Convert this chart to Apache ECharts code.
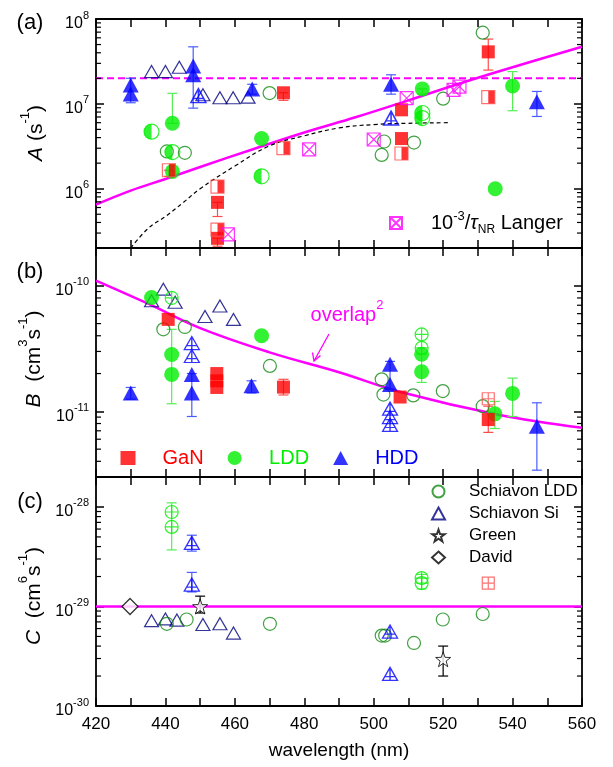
<!DOCTYPE html>
<html><head><meta charset="utf-8">
<script src="https://cdn.jsdelivr.net/npm/echarts@6/dist/echarts.min.js"></script>
<style>html,body{margin:0;padding:0;background:#fff}#c{width:613px;height:767px}</style>
</head><body><div id="c"></div>
<script>
const FONT = '"Liberation Sans", Arial, sans-serif';
const X_MIN = 420, X_MAX = 560;
const xTickLabels = [420, 440, 460, 480, 500, 520, 540, 560];

// ---------------- Panel (a): A (s^-1) ----------------
const aGaNFilled = [[455,6.9e5],[455,2.6e5],[474,1.35e7],[508,8.5e6],[508,3.9e6],[533,4.1e7]];
const aGaNHalf   = [[441,1.65e6],[455,1.06e6],[455,3.3e5],[474,3.0e6],[508,2.6e6],[533,1.2e7]];
const aGaNErr    = [[441,1.4e6,1.65e6],[455,4.7e5,6.9e5],[455,2.1e5,2.6e5],[474,1.1e7,1.35e7],[533,2.5e7,5.8e7]];
const aLDDFilled = [[442,5.9e6],[442,1.6e6],[467.7,3.9e6],[514,1.5e7],[540,1.62e7],[535,1.0e6]];
const aLDDHalf   = [[436,4.7e6],[442,2.7e6],[467.7,1.4e6],[514,7.8e6],[514,6.8e6]];
const aLDDErr    = [[442,5.9e6,1.33e7],[540,8.3e6,2.4e7],[514,1.3e7,1.5e7]];
const aSchLDD    = [[440.4,2.75e6],[445.6,2.65e6],[470,1.34e7],[503,3.6e6],[502.3,2.5e6],[511.6,3.5e6],[520,1.15e7],[531.4,6.9e7]];
const aHDDFilled = [[430,1.67e7],[430,1.31e7],[448,2.8e7],[448,2.2e7],[465,1.5e7],[505,1.7e7],[547,1.06e7]];
const aHDDErr    = [[430,1.03e7,2.0e7],[448,8.9e6,4.7e7],[465,1.3e7,1.7e7],[505,1.3e7,2.2e7],[547,7.1e6,1.4e7]];
const aHDDCross  = [[505,6.8e6],[449.5,1.25e7]];
const aSchSi     = [[436,2.4e7],[440,2.4e7],[444,2.7e7],[450.8,1.28e7],[455.7,1.18e7],[459.5,1.18e7],[463.8,1.2e7]];
const aLanger    = [[458,2.9e5],[481.4,2.9e6],[500,3.8e6],[509.5,1.17e7],[523,1.46e7],[524.7,1.6e7]];
const aOverlap   = [[420,6.5e5],[430,9.5e5],[440,1.3e6],[450,1.8e6],[465,2.9e6],[480,4.6e6],[495,7.0e6],[510,1.1e7],[525,1.75e7],[540,2.7e7],[560,4.7e7]];
const aModel     = [[430,2.0e5],[435,3.4e5],[440,4.7e5],[445,6.8e5],[450,1.0e6],[460,1.85e6],[470,3.2e6],[480,4.2e6],[490,5.2e6],[500,5.7e6],[510,5.9e6],[522,6.0e6]];
const aConst     = [[420,2e7],[560,2e7]];

// ---------------- Panel (b): B (cm^3 s^-1) ----------------
const bGaNFilled = [[440.8,5.4e-11],[454.8,2.0e-11],[454.8,1.75e-11],[454.8,1.55e-11],[474,1.56e-11],[507.6,1.3e-11],[533,8.6e-12]];
const bGaNCross  = [[533,1.26e-11]];
const bGaNErr    = [[474,1.35e-11,1.8e-11],[533,6.8e-12,1.1e-11]];
const bLDDFilled = [[436,8.07e-11],[441.8,2.84e-11],[441.8,1.97e-11],[467.7,4.0e-11],[513.8,2.85e-11],[513.8,2.07e-11],[534.9,9.55e-12],[540,1.39e-11]];
const bLDDErr    = [[441.8,1.15e-11,4.5e-11],[513.8,1.7e-11,2.85e-11],[534.9,7.3e-12,1.2e-11],[540,9.1e-12,1.84e-11]];
const bLDDCross  = [[441.8,8e-11],[513.8,4.1e-11],[513.8,3.2e-11]];
const bSchLDD    = [[439.4,4.5e-11],[445.6,4.7e-11],[470.1,2.3e-11],[502.3,1.8e-11],[502.8,1.36e-11],[511.4,1.34e-11],[519.9,1.45e-11],[531.4,1.1e-11]];
const bHDDFilled = [[430,1.4e-11],[447.6,1.97e-11],[447.6,1.4e-11],[464.8,1.6e-11],[504.7,2.37e-11],[504.7,1.64e-11],[547,7.6e-12]];
const bHDDErr    = [[430,1.25e-11,1.55e-11],[447.6,9.1e-12,2.0e-11],[464.8,1.4e-11,1.75e-11],[504.7,1.5e-11,2.5e-11],[547,3.4e-12,1.17e-11]];
const bHDDCross  = [[447.6,3.5e-11],[447.6,2.76e-11],[504.7,1.05e-11],[504.7,9e-12],[504.7,7.8e-12]];
const bSchSi     = [[436,7.6e-11],[439.4,9.4e-11],[442.8,7.4e-11],[451.4,5.7e-11],[455.7,6.9e-11],[459.6,5.4e-11]];
const bOverlap   = [[420,1.1e-10],[435,7.2e-11],[450,4.6e-11],[470,2.95e-11],[490,2.05e-11],[508,1.42e-11],[536,9.4e-12],[560,7.4e-12]];

// ---------------- Panel (c): C (cm^6 s^-1) ----------------
const cSchLDD   = [[440.4,6.7e-30],[446.1,7.4e-30],[470.1,6.7e-30],[502.3,5.1e-30],[503.3,5.1e-30],[511.6,4.3e-30],[519.9,7.4e-30],[531.4,8.4e-30]];
const cSchSi    = [[436,7.2e-30],[440,7.5e-30],[443.3,7.3e-30],[450.8,6.6e-30],[455.7,6.7e-30],[459.6,5.4e-30]];
const cLDDCross = [[441.8,8.9e-29],[441.8,6.3e-29],[513.8,1.93e-29],[513.8,1.72e-29]];
const cLDDErr   = [[441.8,3.7e-29,1.1e-28],[513.8,1.5e-29,2.1e-29]];
const cGaNCross = [[533,1.72e-29]];
const cHDDCross = [[447.6,4.35e-29],[447.6,1.66e-29],[504.7,5.6e-30],[504.7,2.1e-30]];
const cHDDErr   = [[447.6,3.6e-29,5.2e-29],[447.6,1.4e-29,2.2e-29]];
const cGreen    = [[450,1e-29],[520,2.95e-30]];
const cGreenErr = [[450,8.6e-30,1.27e-29],[520,2e-30,4e-30]];
const cDavid    = [[429.8,1e-29]];
const cConst    = [[420,1e-29],[560,1e-29]];

// ---------------- layout ----------------
// Panel (c) values are too small for the log scale's rounding, so that panel uses a
// linear axis in log10 units (exponent axis) with the same decade layout.
const PANELS = [
  {top:19,  min:2e5,   max:1e8,    expAxis:false},
  {top:248, min:3e-12, max:2e-10,  expAxis:false},
  {top:477, min:1e-30, max:2e-28,  expAxis:true}
];
const GRID_LEFT = 96, GRID_W = 486, GRID_H = 229;

const RED = '#ff0000', RED_L = '#ff4d4d', GREEN = '#00ee00', GREEN_L = '#55ee55', DKGREEN = '#138a13',
      BLUE = '#0000ff', BLUE_L = '#4a5cff', NAVY = '#000080', MAG = '#ff00ff';

const SYM = {
  halfCircle: 'path://M5,0A5,5,0,0,0,5,10Z',
  crossCircle: 'path://M0,5A5,5,0,1,1,10,5A5,5,0,1,1,0,5ZM0,5L10,5M5,0L5,10',
  crossSquare: 'path://M0,0L10,0L10,10L0,10ZM0,5L10,5M5,0L5,10',
  xSquare: 'path://M0,0L10,0L10,10L0,10ZM0,0L10,10M10,0L0,10',
  triCross: 'path://M0,10L5,0L10,10ZM5,0L5,10M1.5,7L8.5,7',
  star: 'path://M10,0L12.35,6.76L19.51,6.91L13.8,11.24L15.88,18.09L10,14L4.12,18.09L6.2,11.24L0.49,6.91L7.65,6.76Z'
};

function T(p, data) {
  if (!PANELS[p].expAxis) return data;
  return data.map(r => [r[0]].concat(r.slice(1).map(v => Math.log10(v))));
}

function powLabelLog(v) {
  const l = Math.log10(v), e = Math.round(l);
  if (Math.abs(l - e) > 1e-6) return '';
  return '{b|10}{s|' + e + '}';
}
function powLabelExp(v) {
  const e = Math.round(v);
  if (Math.abs(v - e) > 1e-6) return '';
  return '{b|10}{s|' + e + '}';
}
const supRich = {
  b: {fontSize: 16, fontFamily: FONT, color: '#000', lineHeight: 26, verticalAlign: 'bottom'},
  s: {fontSize: 11, fontFamily: FONT, color: '#000', verticalAlign: 'top', padding: [4, 0, 0, 0]}
};

const grids = PANELS.map(p => ({left: GRID_LEFT, top: p.top, width: GRID_W, height: GRID_H, show: false}));
const xAxes = [], yAxes = [];
PANELS.forEach((p, i) => {
  ['bottom', 'top'].forEach(pos => {
    const isMain = (i === 2 && pos === 'bottom');
    xAxes.push({
      type: 'value', gridIndex: i, position: pos, min: X_MIN, max: X_MAX, interval: 10,
      axisLine: {show: true, onZero: false, lineStyle: {color: '#000', width: 1.8}},
      axisTick: {show: true, inside: true, length: 8, lineStyle: {color: '#000', width: 1.5}},
      splitLine: {show: false},
      axisLabel: {show: isMain, formatter: v => xTickLabels.includes(v) ? String(v) : '',
                  fontSize: 17, color: '#000', fontFamily: FONT, margin: 10},
      name: isMain ? 'wavelength (nm)' : '', nameLocation: 'middle', nameGap: 35,
      nameTextStyle: {fontSize: 19, color: '#000', fontFamily: FONT}
    });
  });
  ['left', 'right'].forEach(pos => {
    const common = {
      gridIndex: i, position: pos,
      axisLine: {show: true, onZero: false, lineStyle: {color: '#000', width: 1.8}},
      axisTick: {show: true, inside: true, length: 8, lineStyle: {color: '#000', width: 1.5}},
      splitLine: {show: false},
      axisLabel: {show: pos === 'left', formatter: p.expAxis ? powLabelExp : powLabelLog,
                  showMinLabel: true, showMaxLabel: true, margin: 7, rich: supRich}
    };
    if (p.expAxis) {
      yAxes.push(Object.assign({type: 'value', min: Math.log10(p.min), max: Math.log10(p.max), interval: 1}, common));
    } else {
      yAxes.push(Object.assign({type: 'log', logBase: 10, min: p.min, max: p.max}, common));
    }
  });
});

function minorTicks(lo, hi) {
  const out = [];
  for (let e = Math.floor(Math.log10(lo)); e <= Math.ceil(Math.log10(hi)); e++) {
    for (let m = 2; m <= 9; m++) {
      const v = m * Math.pow(10, e);
      if (v > lo * 1.0001 && v < hi * 0.9999) out.push([X_MIN, v]);
    }
  }
  return out;
}

function ax(p) { return {xAxisIndex: 2 * p, yAxisIndex: 2 * p}; }

function scatter(name, data, p, symbol, size, style, extra) {
  return Object.assign({type: 'scatter', name, data: T(p, data), symbol, symbolSize: size, itemStyle: style,
    z: 5, silent: true, clip: false, emphasis: {disabled: true}}, ax(p), extra || {});
}
function openStyle(c, w) { return {color: 'transparent', borderColor: c, borderWidth: w || 1.2}; }
function fillStyle(c) { return {color: c, borderWidth: 0}; }

function errorBars(name, data, p, color) {
  return Object.assign({
    type: 'custom', name, data: T(p, data), encode: {x: 0, y: [1, 2]}, z: 3, silent: true,
    renderItem(params, api) {
      const x = api.value(0);
      const lo = api.coord([x, api.value(1)]), hi = api.coord([x, api.value(2)]);
      const w = 5, st = {stroke: color, lineWidth: 1.2};
      return {type: 'group', children: [
        {type: 'line', shape: {x1: lo[0], y1: lo[1], x2: hi[0], y2: hi[1]}, style: st},
        {type: 'line', shape: {x1: lo[0] - w, y1: lo[1], x2: lo[0] + w, y2: lo[1]}, style: st},
        {type: 'line', shape: {x1: hi[0] - w, y1: hi[1], x2: hi[0] + w, y2: hi[1]}, style: st}
      ]};
    }
  }, ax(p));
}

function minorTickSeries(p) {
  const P = PANELS[p];
  return Object.assign({
    type: 'custom', name: 'minor' + p, data: T(p, minorTicks(P.min, P.max)), encode: {x: 0, y: 1}, z: 10, silent: true,
    renderItem(params, api) {
      const v = api.value(1);
      const l = api.coord([X_MIN, v]), r = api.coord([X_MAX, v]);
      const st = {stroke: '#000', lineWidth: 1.2};
      return {type: 'group', children: [
        {type: 'line', shape: {x1: l[0], y1: l[1], x2: l[0] + 5, y2: l[1]}, style: st},
        {type: 'line', shape: {x1: r[0], y1: r[1], x2: r[0] - 5, y2: r[1]}, style: st}
      ]};
    }
  }, ax(p));
}

function line(name, data, p, style, smooth) {
  return Object.assign({type: 'line', name, data: T(p, data), showSymbol: false, symbol: 'none', smooth: smooth || 0,
    lineStyle: style, z: 2, silent: true, clip: true}, ax(p));
}

const series = [
  minorTickSeries(0), minorTickSeries(1), minorTickSeries(2),
  // panel a
  line('aConst', aConst, 0, {color: MAG, width: 2, type: [7, 4]}),
  line('aOverlap', aOverlap, 0, {color: MAG, width: 2.5}, 0.4),
  line('aModel', aModel, 0, {color: '#000', width: 1.2, type: [4, 3]}, 0.4),
  errorBars('aGaNErr', aGaNErr, 0, RED_L),
  errorBars('aLDDErr', aLDDErr, 0, GREEN_L),
  errorBars('aHDDErr', aHDDErr, 0, BLUE_L),
  scatter('aSchSi', aSchSi, 0, 'triangle', [14, 12], openStyle(NAVY)),
  scatter('aSchLDD', aSchLDD, 0, 'circle', 13, openStyle(DKGREEN)),
  scatter('aLDDFilled', aLDDFilled, 0, 'circle', 15, fillStyle(GREEN)),
  scatter('aLDDHalfFill', aLDDHalf, 0, SYM.halfCircle, [7.5, 15], fillStyle(GREEN), {symbolOffset: [-3.75, 0], z: 6}),
  scatter('aLDDHalfLine', aLDDHalf, 0, 'circle', 15, openStyle(GREEN), {z: 6}),
  scatter('aGaNFilled', aGaNFilled, 0, 'rect', 13, fillStyle(RED), {z: 7}),
  scatter('aGaNHalfFill', aGaNHalf, 0, 'rect', [6.5, 13], fillStyle(RED), {symbolOffset: [3.25, 0], z: 7}),
  scatter('aGaNHalfLine', aGaNHalf, 0, 'rect', 13, openStyle(RED_L), {z: 7}),
  scatter('aHDDFilled', aHDDFilled, 0, 'triangle', [16, 15], fillStyle(BLUE), {z: 6}),
  scatter('aHDDCross', aHDDCross, 0, SYM.triCross, [15, 14], openStyle(BLUE, 1.5), {z: 6}),
  scatter('Langer', aLanger, 0, SYM.xSquare, 13, openStyle(MAG), {z: 8}),
  // panel b
  line('bOverlap', bOverlap, 1, {color: MAG, width: 2.5}, 0.4),
  errorBars('bGaNErr', bGaNErr, 1, RED_L),
  errorBars('bLDDErr', bLDDErr, 1, GREEN_L),
  errorBars('bHDDErr', bHDDErr, 1, BLUE_L),
  scatter('bSchSi', bSchSi, 1, 'triangle', [14, 12], openStyle(NAVY)),
  scatter('bSchLDD', bSchLDD, 1, 'circle', 13, openStyle(DKGREEN)),
  scatter('LDD', bLDDFilled, 1, 'circle', 15, fillStyle(GREEN)),
  scatter('bLDDCross', bLDDCross, 1, SYM.crossCircle, 13, openStyle(GREEN)),
  scatter('GaN', bGaNFilled, 1, 'rect', 13, fillStyle(RED), {z: 7}),
  scatter('bGaNCross', bGaNCross, 1, SYM.crossSquare, 12, openStyle(RED_L), {z: 7}),
  scatter('HDD', bHDDFilled, 1, 'triangle', [16, 15], fillStyle(BLUE), {z: 6}),
  scatter('bHDDCross', bHDDCross, 1, SYM.triCross, [15, 13], openStyle(BLUE, 1.3), {z: 6}),
  // panel c
  line('cConst', cConst, 2, {color: MAG, width: 2.5}),
  errorBars('cLDDErr', cLDDErr, 2, GREEN_L),
  errorBars('cHDDErr', cHDDErr, 2, BLUE_L),
  errorBars('cGreenErr', cGreenErr, 2, '#000'),
  scatter('Schiavon Si', cSchSi, 2, 'triangle', [14, 12], openStyle(NAVY)),
  scatter('Schiavon LDD', cSchLDD, 2, 'circle', 13, openStyle(DKGREEN)),
  scatter('cLDDCross', cLDDCross, 2, SYM.crossCircle, 13, openStyle(GREEN)),
  scatter('cGaNCross', cGaNCross, 2, SYM.crossSquare, 12, openStyle(RED_L)),
  scatter('cHDDCross', cHDDCross, 2, SYM.triCross, [15, 13], openStyle(BLUE, 1.3)),
  scatter('Green', cGreen, 2, SYM.star, 15, {color: '#fff', borderColor: '#000', borderWidth: 1}),
  scatter('David', cDavid, 2, 'diamond', [16, 16], {color: '#fff', borderColor: '#000', borderWidth: 1.3})
];

const legends = [
  {data: [{name: 'Langer'}], left: 384, top: 205, itemWidth: 12, itemHeight: 12, selectedMode: false,
   formatter: () => '{n|10}{s|-3}{n|/}{t|τ}{u|NR}{n| Langer}',
   textStyle: {fontSize: 20, fontFamily: FONT, color: '#000', padding: [0, 0, 0, 24], rich: {
     n: {fontSize: 20, fontFamily: FONT, color: '#000', lineHeight: 26, verticalAlign: 'middle'},
     s: {fontSize: 13, fontFamily: FONT, color: '#000', lineHeight: 12, verticalAlign: 'top'},
     t: {fontSize: 20, fontFamily: FONT, fontStyle: 'italic', color: '#000', lineHeight: 26, verticalAlign: 'middle'},
     u: {fontSize: 12, fontFamily: FONT, color: '#000', lineHeight: 8, verticalAlign: 'bottom'}
   }}},
  {data: [{name: 'GaN', textStyle: {color: RED}}, {name: 'LDD', textStyle: {color: GREEN}}, {name: 'HDD', textStyle: {color: BLUE}}],
   left: 115.5, top: 443, itemWidth: 15, itemHeight: 14, itemGap: 24, selectedMode: false,
   textStyle: {fontSize: 20, fontFamily: FONT, padding: [0, 0, 0, 22]}},
  {data: ['Schiavon LDD', 'Schiavon Si', 'Green', 'David'], orient: 'vertical', left: 426, top: 478,
   itemWidth: 13, itemHeight: 12, itemGap: 5, selectedMode: false,
   textStyle: {fontSize: 17, fontFamily: FONT, color: '#000', padding: [0, 0, 0, 19]}}
];

function txt(text, x, y, size, rot, rich) {
  return {type: 'text', x, y, rotation: rot || 0, silent: true,
    style: {text, fontSize: size, fontFamily: FONT, fill: '#000', align: 'center', verticalAlign: 'middle', rich: rich || undefined}};
}
const titleRich = {
  i: {fontSize: 21, fontFamily: FONT, fontStyle: 'italic', lineHeight: 28, verticalAlign: 'bottom'},
  n: {fontSize: 21, fontFamily: FONT, lineHeight: 28, verticalAlign: 'bottom'},
  s: {fontSize: 13, fontFamily: FONT, lineHeight: 16, verticalAlign: 'top'}
};

const graphics = [
  txt('(a)', 30, 23, 22), txt('(b)', 30, 272, 22), txt('(c)', 30, 502, 22),
  txt('{i|A}{n| (s}{s|-1}{n|)}', 33, 133, 21, Math.PI / 2, titleRich),
  txt('{i|B}{n|  (cm}{s|3}{n|s}{s|-1}{n|)}', 31, 359, 21, Math.PI / 2, titleRich),
  txt('{i|C}{n|  (cm}{s|6}{n|s}{s|-1}{n|)}', 31, 596, 21, Math.PI / 2, titleRich),
  {type: 'text', x: 347, y: 312, silent: true, style: {text: '{n|overlap}{s|2}', align: 'center', verticalAlign: 'middle', fill: MAG,
    rich: {n: {fontSize: 20, fontFamily: FONT, fill: MAG, color: MAG, lineHeight: 26, verticalAlign: 'bottom'},
           s: {fontSize: 13, fontFamily: FONT, fill: MAG, color: MAG, lineHeight: 12, verticalAlign: 'top'}}}},
  {type: 'line', silent: true, shape: {x1: 329, y1: 334, x2: 314, y2: 361}, style: {stroke: MAG, lineWidth: 1.3}},
  {type: 'polyline', silent: true, shape: {points: [[312.5, 352.5], [314, 361], [320.5, 355.5]]}, style: {stroke: MAG, lineWidth: 1.3, fill: null}}
];

const chart = echarts.init(document.getElementById('c'));
chart.setOption({
  animation: false,
  backgroundColor: '#fff',
  grid: grids, xAxis: xAxes, yAxis: yAxes,
  legend: legends,
  series,
  graphic: graphics
});
</script>
</body></html>
